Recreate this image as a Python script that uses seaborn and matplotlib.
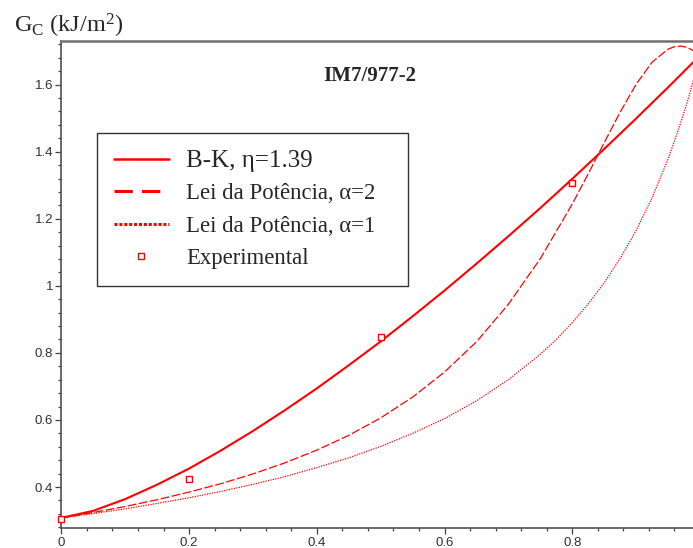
import matplotlib
matplotlib.use("Agg")
import matplotlib.pyplot as plt
import seaborn as sns
import pandas as pd
from matplotlib.lines import Line2D
from matplotlib.ticker import MultipleLocator, FuncFormatter

# ---- data ----
x_bk = [0.0, 0.05, 0.1, 0.15, 0.2, 0.25, 0.3, 0.35, 0.4, 0.45, 0.5, 0.55, 0.6,
        0.65, 0.7, 0.75, 0.8, 0.85, 0.9, 0.95, 0.99]
g_bk = [0.308, 0.329, 0.364, 0.407, 0.455, 0.509, 0.567, 0.629, 0.694, 0.763,
        0.834, 0.909, 0.986, 1.066, 1.148, 1.232, 1.319, 1.408, 1.499, 1.592, 1.668]

x_a2 = [0.0, 0.05, 0.1, 0.15, 0.2, 0.25, 0.3, 0.35, 0.4, 0.45, 0.5, 0.55, 0.6,
        0.65, 0.7, 0.75, 0.8, 0.825, 0.85, 0.875, 0.9, 0.925, 0.95, 0.96, 0.97,
        0.98, 0.99]
g_a2 = [0.308, 0.324, 0.342, 0.362, 0.385, 0.410, 0.439, 0.472, 0.510, 0.554,
        0.606, 0.668, 0.743, 0.833, 0.945, 1.081, 1.244, 1.334, 1.427, 1.518,
        1.601, 1.667, 1.706, 1.713, 1.715, 1.711, 1.701]

x_a1 = [0.0, 0.05, 0.1, 0.15, 0.2, 0.25, 0.3, 0.35, 0.4, 0.45, 0.5, 0.55, 0.6,
        0.65, 0.7, 0.75, 0.775, 0.8, 0.825, 0.85, 0.875, 0.9, 0.925, 0.95, 0.97,
        0.98, 0.99]
g_a1 = [0.308, 0.321, 0.335, 0.351, 0.368, 0.387, 0.408, 0.431, 0.458, 0.487,
        0.521, 0.560, 0.604, 0.657, 0.720, 0.796, 0.840, 0.890, 0.946, 1.009,
        1.082, 1.165, 1.263, 1.378, 1.487, 1.548, 1.615]

x_exp = [0.0, 0.2, 0.5, 0.8]
g_exp = [0.304, 0.423, 0.846, 1.306]

title_text = "IM7/977-2"
lab_bk = "B-K, \u03b7=1.39"
lab_a2 = "Lei da Pot\u00eancia, \u03b1=2"
lab_a1 = "Lei da Pot\u00eancia, \u03b1=1"
lab_exp = "Experimental"

# ---- style ----
sns.set_style("white")
plt.rcParams["font.family"] = ["Liberation Serif", "DejaVu Serif"]
plt.rcParams["mathtext.fontset"] = "custom"
plt.rcParams["mathtext.rm"] = "Liberation Serif"
plt.rcParams["mathtext.it"] = "Liberation Serif:italic"

RED = "#ff0000"
fig = plt.figure(figsize=(6.93, 5.48), dpi=100)
ax = fig.add_axes([0.0885, 0.036, 0.9115, 0.8897])

df_bk = pd.DataFrame({"x": x_bk, "g": g_bk})
df_a2 = pd.DataFrame({"x": x_a2, "g": g_a2})
df_a1 = pd.DataFrame({"x": x_a1, "g": g_a1})
df_exp = pd.DataFrame({"x": x_exp, "g": g_exp})

sns.lineplot(data=df_bk, x="x", y="g", ax=ax, color=RED, lw=1.5, sort=False)
sns.lineplot(data=df_a2, x="x", y="g", ax=ax, color=RED, lw=0.9,
             linestyle=(0, (7, 2)), sort=False)
sns.lineplot(data=df_a1, x="x", y="g", ax=ax, color=RED, lw=0.9,
             linestyle=(0, (1, 1)), sort=False)
ax.scatter(df_exp["x"], df_exp["g"], marker="s", s=22, facecolor="white",
           edgecolor=RED, linewidth=1.0, zorder=5, clip_on=False)

ax.set_xlim(0, 0.989)
ax.set_ylim(0.277, 1.731)
ax.set_xlabel("")
ax.set_ylabel("")

ax.xaxis.set_major_locator(MultipleLocator(0.2))
ax.xaxis.set_minor_locator(MultipleLocator(0.04))
ax.yaxis.set_major_locator(MultipleLocator(0.2))
ax.yaxis.set_minor_locator(MultipleLocator(0.04))
fmt = FuncFormatter(lambda v, p: ("%g" % round(v, 2)))
ax.xaxis.set_major_formatter(fmt)
ax.yaxis.set_major_formatter(fmt)
ax.tick_params(axis="both", which="major", direction="out", length=4.5, width=0.9,
               color="#404040", labelsize=9.5, labelcolor="#303030", pad=1.5,
               bottom=True, left=True)
ax.tick_params(axis="both", which="minor", direction="out", length=2.5, width=0.9,
               color="#404040", bottom=True, left=True)
for lab in ax.get_xticklabels() + ax.get_yticklabels():
    lab.set_family(["Liberation Sans", "DejaVu Sans"])

for side in ["left", "bottom", "top"]:
    ax.spines[side].set_visible(True)
    ax.spines[side].set_color("#505050")
    ax.spines[side].set_linewidth(1.2)
ax.spines["top"].set_color("#707070")
ax.spines["top"].set_linewidth(1.8)
ax.spines["right"].set_visible(False)

ax.text(0.488, 0.927, title_text, transform=ax.transAxes, ha="center",
        va="center", fontsize=15, fontweight="bold")

fig.text(14 / 693, 1 - 33 / 548, r"G$_\mathrm{C}$ (kJ/m$^2$)", fontsize=17.5,
         ha="left", va="baseline")

handles = [
    Line2D([], [], color=RED, lw=1.8),
    Line2D([], [], color=RED, lw=2.2, linestyle=(0, (6, 3))),
    Line2D([], [], color=RED, lw=2.2, linestyle=(0, (1, 0.6))),
    Line2D([], [], color=RED, lw=0, marker="s", markersize=5,
           markerfacecolor="white", markeredgecolor=RED, markeredgewidth=1),
]
leg = ax.legend(handles, [lab_bk, lab_a2, lab_a1, lab_exp],
                loc="upper left", bbox_to_anchor=(0.0565, 0.811, 0.4923, 0.0),
                mode="expand",
                borderaxespad=0, fontsize=16.4, handlelength=2.4,
                handletextpad=0.75, labelspacing=0.5, borderpad=0.75,
                fancybox=False, frameon=True, edgecolor="black")
leg.get_frame().set_linewidth(1.0)
leg.get_texts()[0].set_fontsize(18)

fig.savefig("out.png", dpi=100, facecolor="white")
